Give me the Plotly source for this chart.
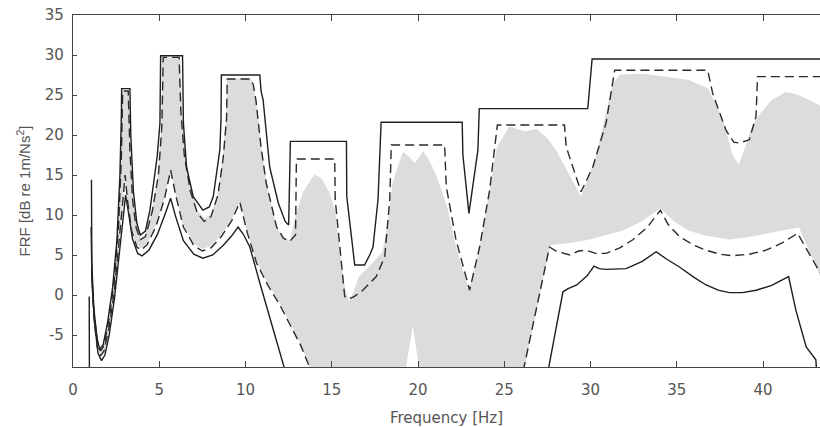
import plotly.graph_objects as go

# ---------------- data ----------------
upper_solid_x = [1.07, 1.09, 1.2, 1.4, 1.55, 1.75, 2.0, 2.3, 2.55, 2.72, 2.8, 2.82, 3.3, 3.35, 3.5, 3.7, 3.9,
                 4.2, 4.46, 4.88, 5.04, 5.08, 6.35, 6.4, 6.58, 6.97, 7.53, 7.9, 8.13, 8.51, 8.58, 8.6, 10.83,
                 10.9, 11.02, 11.4, 11.9, 12.3, 12.5, 12.6, 15.85, 15.87, 16.33, 16.9, 17.2, 17.39, 17.68,
                 17.86, 22.56, 22.6, 22.95, 23.47, 23.55, 29.84, 29.9, 30.09, 43.5]
upper_solid_y = [14.4, 4.0, -1.5, -5.5, -6.8, -6.2, -3.5, 1.0, 7.0, 15.0, 22.0, 25.8, 25.8, 20.0, 13.0, 9.0, 7.5,
                 8.0, 10.6, 17.3, 21.5, 29.9, 29.9, 21.5, 16.0, 12.3, 10.6, 11.0, 12.3, 18.1, 22.0, 27.5, 27.5,
                 25.5, 24.4, 16.0, 11.5, 9.2, 8.75, 19.2, 19.2, 12.3, 3.75, 3.75, 5.0, 6.0, 11.9,
                 21.6, 21.6, 17.5, 10.2, 18.1, 23.3, 23.3, 24.8, 29.5, 29.5]

upper_dash_x = [1.1, 1.25, 1.45, 1.6, 1.8, 2.1, 2.4, 2.65, 2.8, 2.88, 3.2, 3.3, 3.45, 3.65, 3.9, 4.2, 4.6, 4.95,
                5.15, 5.23, 6.15, 6.25, 6.45, 6.8, 7.2, 7.6, 8.0, 8.4, 8.7, 8.9, 8.94, 10.3, 10.45, 10.6, 10.9,
                11.2, 11.8, 12.2, 12.56, 12.9, 12.95, 15.17, 15.2, 15.75, 15.95, 16.3, 16.8, 17.58, 18.07,
                18.36, 18.45, 21.54, 21.64, 22.2, 22.99, 23.57, 24.15, 24.53, 24.6, 28.49, 28.59, 29.45,
                30.13, 30.9, 31.29, 31.4, 36.79, 37.08, 37.85, 38.3, 38.62, 39.2, 39.59, 39.68, 43.5]
upper_dash_y = [2.0, -3.0, -6.3, -7.0, -6.3, -3.0, 2.0, 9.0, 17.0, 25.5, 25.5, 18.0, 12.0, 8.5, 6.9, 7.3, 10.5, 15.0,
                21.0, 29.7, 29.7, 23.0, 17.5, 13.0, 10.3, 9.2, 9.8, 12.5, 17.0, 22.0, 27.0, 27.0, 26.3, 24.4, 18.5,
                14.0, 8.5, 7.1, 6.7, 7.5, 17.0, 17.0, 11.9, -0.2, -0.5, -0.2, 0.6, 2.3, 4.8,
                11.9, 18.75, 18.75, 13.5, 6.9, 0.6, 6.0, 13.1, 20.6, 21.25, 21.25, 18.5, 12.9,
                16.0, 21.5, 26.5, 28.1, 28.1, 25.2, 20.6, 19.1, 19.0, 19.4, 22.3, 27.3, 27.3]

lower_dash_x = [1.08, 1.2, 1.4, 1.6, 1.8, 2.1, 2.4, 2.7, 2.9, 3.02, 3.15, 3.4, 3.7, 3.95, 4.3, 4.8, 5.3, 5.66,
                5.95, 6.4, 7.0, 7.5, 8.0, 8.6, 9.2, 9.67, 10.1, 10.64, 11.3, 12.0, 12.6, 13.2, 13.8, None,
                26.1, 26.17, 27.62, 28.0, 28.8, 29.3, 29.75, 30.3, 30.9, 31.7, 32.45, 33.3, 34.05, 34.5, 35.15,
                36.0, 36.7, 37.5, 38.23, 39.2, 40.17, 41.1, 42.0, 42.6, 43.3]
lower_dash_y = [3.0, -2.5, -6.5, -7.6, -7.0, -4.0, 0.5, 7.0, 12.0, 15.0, 12.0, 8.0, 6.0, 5.6, 6.3, 8.5, 12.0, 15.6,
                12.5, 8.5, 6.2, 5.5, 5.9, 7.3, 9.3, 11.6, 7.8, 4.0, 1.2, -1.3, -3.8, -6.3, -9.5, None,
                -9.5, -8.75, 6.0, 5.5, 5.0, 5.5, 5.6, 5.2, 5.2, 5.9, 6.9, 8.5, 10.6, 8.8, 7.3,
                6.2, 5.6, 5.1, 4.9, 5.1, 5.6, 6.5, 7.7, 5.5, 2.8]

lower_solid_x = [0.94, 0.95, None, 1.05, 1.1, 1.25, 1.45, 1.65, 1.85, 2.1, 2.4, 2.7, 2.9, 3.05, 3.2, 3.45, 3.75,
                 4.0, 4.4, 4.9, 5.35, 5.66, 5.95, 6.4, 7.0, 7.53, 8.1, 8.7, 9.2, 9.57, 9.9, 10.25, 10.83, 11.5,
                 12.18, 12.3, None, 27.55, 27.6, 28.4, 28.7, 29.2, 29.8, 30.2, 30.5, 30.9, 32.06, 33.0, 33.8,
                 34.4, 35.15, 36.0, 36.7, 37.4, 38.04, 38.8, 39.6, 40.5, 41.48, 41.9, 42.5, 43.06, 43.1]
lower_solid_y = [-0.2, -9.6, None, 8.5, 2.0, -3.5, -7.3, -8.2, -7.5, -5.0, -0.5, 5.5, 10.0, 12.5, 10.5, 7.0, 5.2,
                 4.9, 5.6, 7.6, 10.2, 12.1, 9.8, 6.8, 5.1, 4.6, 5.0, 6.2, 7.4, 8.5, 7.5, 6.0, 1.5, -3.5,
                 -8.5, -9.5, None, -9.5, -8.75, 0.4, 0.8, 1.25, 2.4, 3.6, 3.3, 3.2, 3.3, 4.2, 5.4,
                 4.5, 3.5, 2.2, 1.25, 0.6, 0.3, 0.3, 0.6, 1.2, 2.3, -1.9, -6.5, -8.1, -9.5]

# envelope of the grey family of sampled FRFs
gray_upper_x = [1.08, 1.2, 1.45, 1.6, 1.8, 2.1, 2.4, 2.65, 2.8, 2.86, 3.22, 3.32, 3.5, 3.7, 3.9, 4.2, 4.6, 4.95,
                5.15, 5.2, 6.2, 6.3, 6.5, 6.85, 7.2, 7.6, 8.0, 8.4, 8.7, 8.9, 8.95, 10.3, 10.6, 10.9, 11.2, 11.8,
                12.2, 12.6, 13.0, 13.4, 14.0, 14.4, 14.8, 15.17, 15.5, 15.75, 16.0, 16.3, 16.6, 17.3, 17.97,
                18.3, 18.55, 19.13, 19.5, 19.8, 20.3, 20.7, 21.06, 21.64, 22.2, 22.95, 23.57, 24.15, 24.6,
                25.3, 26.2, 26.9, 27.5, 28.0, 28.97, 29.45, 30.3, 30.9, 31.3, 31.7, 33.0, 34.5, 35.7, 36.8,
                37.66, 38.2, 38.6, 39.0, 39.4, 39.8, 40.5, 41.3, 42.0, 42.7, 43.4]
gray_upper_y = [4.0, -2.5, -6.5, -7.2, -6.5, -3.2, 1.5, 8.5, 16.0, 25.5, 25.5, 18.0, 11.5, 8.3, 7.0, 7.4, 10.5, 15.0,
                21.0, 29.6, 29.6, 23.0, 17.5, 13.0, 10.5, 9.5, 10.0, 12.5, 17.0, 22.0, 27.0, 27.0, 24.2, 18.3, 13.8, 8.4,
                7.0, 6.8, 10.5, 13.0, 15.0, 14.5, 13.0, 10.5, 4.5, 0.8, -1.0, 0.5, 2.3, 3.8, 5.4,
                9.5, 14.0, 17.8, 17.2, 16.4, 17.9, 16.5, 14.8, 11.2, 5.8, 0.4, 5.6, 12.8, 18.5,
                21.0, 20.4, 20.7, 19.5, 18.0, 14.0, 12.2, 17.0, 22.5, 26.3, 27.5, 27.6, 27.2, 26.8, 25.8,
                21.9, 17.5, 16.2, 18.5, 21.2, 22.5, 24.3, 25.3, 25.0, 24.3, 23.5]

gray_lower_x = [1.08, 1.2, 1.4, 1.6, 1.8, 2.1, 2.4, 2.7, 2.9, 3.02, 3.15, 3.4, 3.7, 3.95, 4.3, 4.8, 5.3, 5.66,
                5.95, 6.4, 7.0, 7.5, 8.0, 8.6, 9.2, 9.67, 10.1, 10.64, 11.3, 12.0, 12.6, 13.2, 13.8, 19.25, 19.7,
                20.1, 26.1, 26.2, 27.65, 28.6, 29.75, 30.6, 31.86, 33.0, 34.05, 34.8, 35.7, 36.6, 38.04,
                39.2, 40.36, 41.3, 42.1, 42.7, 43.4]
gray_lower_y = [4.0, -2.3, -6.3, -7.4, -6.8, -3.8, 0.8, 7.3, 12.3, 15.2, 12.3, 8.3, 6.3, 5.9, 6.6, 8.8, 12.3, 15.9,
                12.8, 8.8, 6.5, 5.8, 6.2, 7.6, 9.6, 11.9, 8.1, 4.3, 1.5, -1.0, -3.5, -6.0, -9.3, -9.3, -3.5,
                -9.3, -9.3, -8.5, 6.3, 6.5, 6.9, 7.4, 8.1, 9.3, 10.9, 9.3, 8.1, 7.5, 7.0,
                7.3, 7.8, 8.2, 8.5, 5.5, 2.0]

x_ticks = [0, 5, 10, 15, 20, 25, 30, 35, 40]
y_ticks = [-5, 0, 5, 10, 15, 20, 25, 30, 35]
y_ticktext = ["-5", "0", "5", "10", "15", "20", "25", "30", "35"]

# ---------------- figure ----------------
fig = go.Figure()

band_x = gray_upper_x + gray_lower_x[::-1]
band_y = gray_upper_y + gray_lower_y[::-1]
fig.add_trace(go.Scatter(x=band_x, y=band_y, fill="toself", fillcolor="#dcdcdc",
                         line=dict(color="#d8d8d8", width=0.8), mode="lines", hoverinfo="skip"))

fig.add_trace(go.Scatter(x=lower_solid_x, y=lower_solid_y, mode="lines",
                         line=dict(color="#1e1e1e", width=1.4)))
fig.add_trace(go.Scatter(x=lower_dash_x, y=lower_dash_y, mode="lines",
                         line=dict(color="#2a2a2a", width=1.4, dash="9px,5px")))
fig.add_trace(go.Scatter(x=upper_dash_x, y=upper_dash_y, mode="lines",
                         line=dict(color="#2a2a2a", width=1.4, dash="9px,5px")))
fig.add_trace(go.Scatter(x=upper_solid_x, y=upper_solid_y, mode="lines",
                         line=dict(color="#1e1e1e", width=1.4)))

tick_font = dict(family="DejaVu Sans, Verdana, sans-serif", size=15, color="#555555")
ytitle_font = dict(family="Liberation Sans, Arial, sans-serif", size=15, color="#555555")

fig.update_layout(
    width=820, height=427,
    margin=dict(l=73, r=0, t=15, b=60),
    paper_bgcolor="white", plot_bgcolor="white",
    showlegend=False,
    font=tick_font,
    xaxis=dict(range=[0, 43.3], tickvals=x_ticks, ticks="inside", ticklen=6, tickcolor="#444",
               showline=True, linecolor="#444", linewidth=1.2, mirror="ticks",
               showgrid=False, zeroline=False, tickfont=tick_font, ticklabelstandoff=9,
               automargin=False,
               title=dict(text="Frequency [Hz]", font=tick_font, standoff=16)),
    yaxis=dict(range=[-9, 35], tickvals=y_ticks, ticktext=y_ticktext, ticks="inside", ticklen=4,
               tickcolor="#444", showline=True, linecolor="#444", linewidth=1.2, mirror=False,
               showgrid=False, zeroline=False, tickfont=tick_font, ticklabelstandoff=5,
               automargin=False,
               title=dict(text="FRF [dB re 1m/Ns<sup>2</sup>]", font=ytitle_font, standoff=10)),
)

fig.write_html("out.html")
